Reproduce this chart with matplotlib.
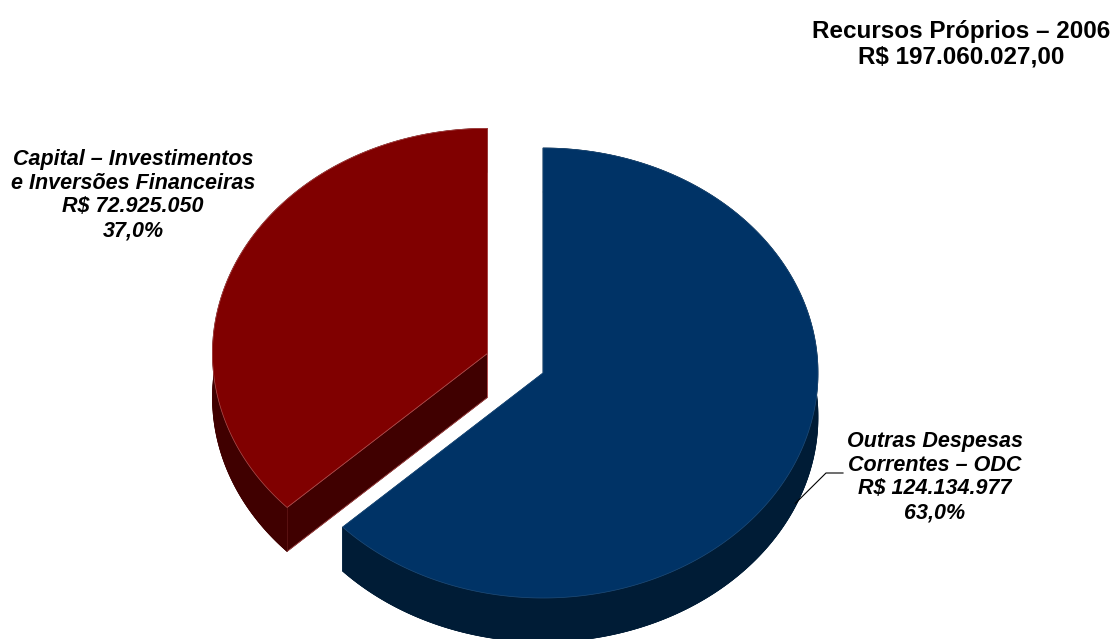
import numpy as np
import matplotlib
matplotlib.use("Agg")
import matplotlib.pyplot as plt
from matplotlib.patches import Polygon

plt.rcParams['font.family'] = ['Liberation Sans', 'DejaVu Sans']

# data
labels = ["Outras Despesas\nCorrentes – ODC", "Capital – Investimentos\ne Inversões Financeiras"]
values = [124134977, 72925050]
shares = ["63,0%", "37,0%"]
explode = [0.0, 0.22]
top_colors = ["#003366", "#800000"]
side_colors = ["#001c36", "#400000"]
edge_colors = ["#1f4d7a", "#b05050"]
title = "Recursos Próprios – 2006\nR$ 197.060.027,00"

# geometry of the 3d pie (pixel space)
CX, CY = 543, 373
RX, RY = 275, 225
DEPTH = 44


def fmt_money(v):
    return "R$ " + f"{v:,}".replace(",", ".")


def pt(cx, cy, t, dy=0):
    return np.column_stack([cx + RX * np.cos(t), cy - RY * np.sin(t) + dy])


fig = plt.figure(figsize=(11.19, 6.39), dpi=100)
ax = fig.add_axes([0, 0, 1, 1])
ax.set_xlim(0, 1119)
ax.set_ylim(639, 0)
ax.axis('off')

total = sum(values)
start = np.pi / 2
slices = []
for i, v in enumerate(values):
    sweep = 2 * np.pi * v / total
    a0, a1 = start, start - sweep
    mid = (a0 + a1) / 2
    cx = CX + explode[i] * RX * np.cos(mid)
    cy = CY - explode[i] * RY * np.sin(mid)
    slices.append((a0, a1, mid, cx, cy))
    start = a1

# draw back slice (red) first, then front slice (blue)
for i in [1, 0]:
    a0, a1, mid, cx, cy = slices[i]
    t = np.linspace(a0, a1, 300)
    arc = pt(cx, cy, t)
    arc_b = pt(cx, cy, t, DEPTH)
    c = np.array([[cx, cy]])
    cb = np.array([[cx, cy + DEPTH]])
    side = side_colors[i]
    ec = edge_colors[i]
    # bottom face
    ax.add_patch(Polygon(np.vstack([cb, arc_b]), closed=True, fc=side, ec=side, lw=0.5))
    # radial walls
    for a in (a0, a1):
        e = pt(cx, cy, np.array([a]))
        eb = pt(cx, cy, np.array([a]), DEPTH)
        ax.add_patch(Polygon(np.vstack([c, e, eb, cb]), closed=True, fc=side, ec=ec, lw=0.5))
    # outer wall
    ax.add_patch(Polygon(np.vstack([arc, arc_b[::-1]]), closed=True, fc=side, ec=side, lw=0.5))
    # top face
    ax.add_patch(Polygon(np.vstack([c, arc]), closed=True, fc=top_colors[i], ec=ec, lw=0.5))

lab_font = dict(fontsize=15.5, fontweight='bold', fontstyle='italic', ha='center',
                va='center', linespacing=1.18, color='black')

# blue label with leader line
a0, a1, mid, cx, cy = slices[0]
anchor = pt(cx, cy, np.array([mid]), DEPTH - 3)[0]
ax.plot([anchor[0], 826, 843], [anchor[1], 473, 473], color='black', lw=0.8)
ax.text(935, 477, f"{labels[0]}\n{fmt_money(values[0])}\n{shares[0]}", **lab_font)

# red label
ax.text(133, 195, f"{labels[1]}\n{fmt_money(values[1])}\n{shares[1]}", **lab_font)

# title
ax.text(961, 44, title, fontsize=17.5, fontweight='bold', ha='center', va='center',
        linespacing=1.15, color='black')

fig.savefig("out.png", dpi=100)
